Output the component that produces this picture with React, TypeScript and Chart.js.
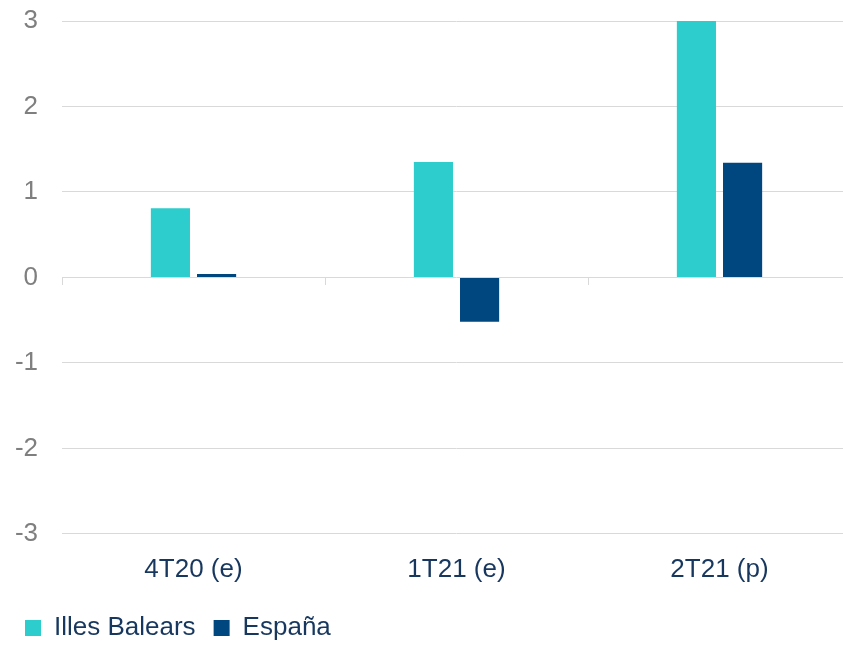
import React, { useEffect, useRef } from "react";
import { Chart, registerables } from "chart.js";

Chart.register(...registerables);

const categories = ["4T20 (e)", "1T21 (e)", "2T21 (p)"];
const illesBalears = [0.81, 1.35, 3.0];
const espana = [0.04, -0.52, 1.34];
const seriesNames = ["Illes Balears", "España"];
const yTicks = { min: -3, max: 3, step: 1 };

const TEAL = "#2ECDCD";
const NAVY = "#00467F";
const FONT = "'Liberation Sans', Arial, sans-serif";

export default function App() {
  const ref = useRef<HTMLCanvasElement | null>(null);

  useEffect(() => {
    document.body.style.margin = "0";
    const ctx = ref.current;
    if (!ctx) return;
    const chart = new Chart(ctx, {
      type: "bar",
      data: {
        labels: categories,
        datasets: [
          {
            label: seriesNames[0],
            data: illesBalears,
            backgroundColor: TEAL,
            categoryPercentage: 0.351,
            barPercentage: 0.848,
          },
          {
            label: seriesNames[1],
            data: espana,
            backgroundColor: NAVY,
            categoryPercentage: 0.351,
            barPercentage: 0.848,
          },
        ],
      },
      options: {
        animation: false,
        responsive: false,
        maintainAspectRatio: false,
        layout: { padding: { top: 21, right: 0, left: 7, bottom: -6 } },
        plugins: {
          tooltip: { enabled: false },
          legend: {
            position: "bottom",
            align: "start",
            labels: {
              font: { family: FONT, size: 26 },
              color: "#17375E",
              boxWidth: 16,
              boxHeight: 16,
              padding: 18,
            },
          },
        },
        scales: {
          x: {
            position: "bottom",
            grid: { display: false },
            border: { display: false },
            ticks: {
              font: { family: FONT, size: 26 },
              color: "#17375E",
              padding: 12,
            },
          },
          x0: {
            type: "category",
            labels: categories,
            position: { y: 0 } as any,
            offset: true,
            grid: {
              display: true,
              drawOnChartArea: false,
              drawTicks: true,
              tickLength: 8,
              color: "#D9D9D9",
              offset: true,
            },
            border: { display: false },
            ticks: { display: false },
            afterFit: (scale: any) => {
              scale.height = 0;
              scale.paddingTop = 0;
              scale.paddingBottom = 0;
            },
          },
          y: {
            min: yTicks.min,
            max: yTicks.max,
            grid: {
              color: "#D9D9D9",
              lineWidth: 1,
              drawTicks: false,
            },
            border: { display: false },
            ticks: {
              stepSize: yTicks.step,
              font: { family: FONT, size: 26 },
              color: "#7F7F7F",
              padding: 24,
            },
            afterFit: (scale: any) => {
              scale.width = 55;
              scale.paddingTop = 0;
              scale.paddingBottom = 0;
            },
          },
        },
      },
    });
    return () => chart.destroy();
  }, []);

  return (
    <div style={{ position: "fixed", left: 0, top: 0, width: 843, height: 645, overflow: "hidden", background: "#fff" }}>
      <canvas ref={ref} width={851} height={645} style={{ display: "block" }} />
    </div>
  );
}
